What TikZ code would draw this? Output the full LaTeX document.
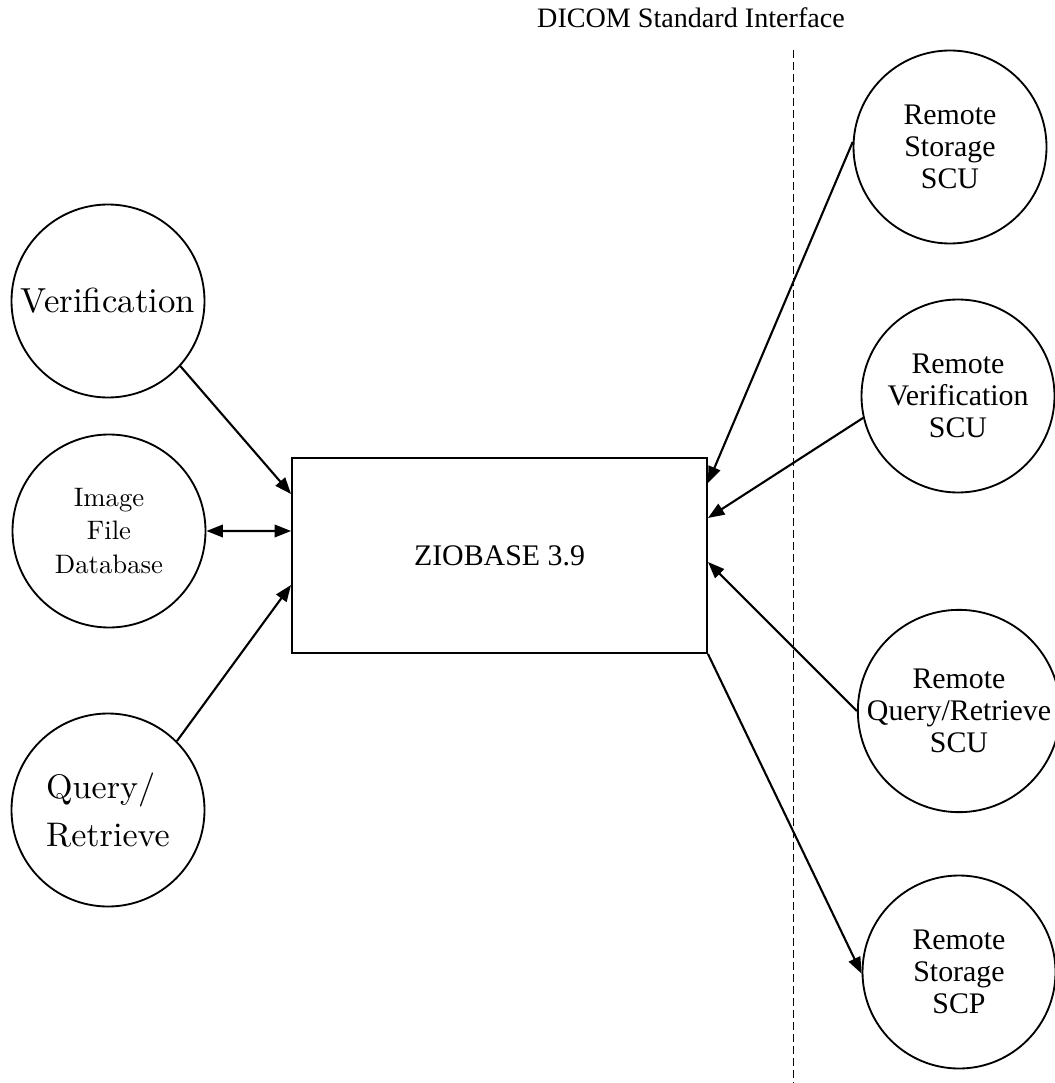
\documentclass[tikz,border=0pt]{standalone}
\usepackage{fontspec}
\setmainfont{Liberation Serif}
\newfontfamily\lmfont{lmroman10-regular}[Extension=.otf]
\usetikzlibrary{arrows.meta}

\begin{document}
\begin{tikzpicture}[x=0.2mm,y=-0.2mm,
    proc/.style={draw,circle,line width=1.05pt,minimum size=38.6mm,inner sep=0pt,align=center},
    link/.style={line width=1.2pt,-{Triangle[length=3.3mm,width=2.5mm]}},
    font=\fontsize{17}{18.2}\selectfont]
    \useasboundingbox (0,0) rectangle (1054,1083);

    \node[anchor=base, font=\fontsize{16}{18}\selectfont] (title) at (691,28) {DICOM Standard Interface};
    \draw [dash pattern=on 1.6mm off 0.8mm, line width=0.55pt] (793,50) -- (793,1083);

    \node[draw, line width=1.1pt, minimum width=83mm, minimum height=39mm] (zb) at (499.5,555.5) {ZIOBASE 3.9};

    % local side
    \node[proc, font=\lmfont\fontsize{19.8}{22}\selectfont] (ver) at (108,301) {Verification};
    \node[proc, font=\lmfont\fontsize{15.2}{18.8}\selectfont] (img) at (109,531) {Image\\File\\Database};
    \node[proc, align=left, font=\lmfont\fontsize{19.4}{27}\selectfont] (qr) at (108,810) {Query/\\Retrieve};

    % remote side
    \node[proc] (rss) at (950,147) {Remote\\Storage\\SCU};
    \node[proc] (rvs) at (958,396) {Remote\\Verification\\SCU};
    \node[proc] (rqs) at (959,711) {Remote\\Query/Retrieve\\SCU};
    \node[proc] (rsp) at (959,972) {Remote\\Storage\\SCP};

    \draw[link] (ver.-42) -- ([yshift=12.3mm]zb.west);
    \draw[link, {Triangle[length=3.3mm,width=2.5mm]}-{Triangle[length=3.3mm,width=2.5mm]}] (img.east) -- ([yshift=4.9mm]zb.west);
    \draw[link] (qr.45) -- ([yshift=-5.9mm]zb.west);

    \draw[link] (rss.177) -- ([yshift=14.5mm]zb.east);
    \draw[link] (rvs.193) -- ([yshift=7.5mm]zb.east);
    \draw[link] (rqs.west) -- ([yshift=-1.3mm]zb.east);
    \draw[link] (zb.south east) -- (rsp.181);
\end{tikzpicture}
\end{document}
